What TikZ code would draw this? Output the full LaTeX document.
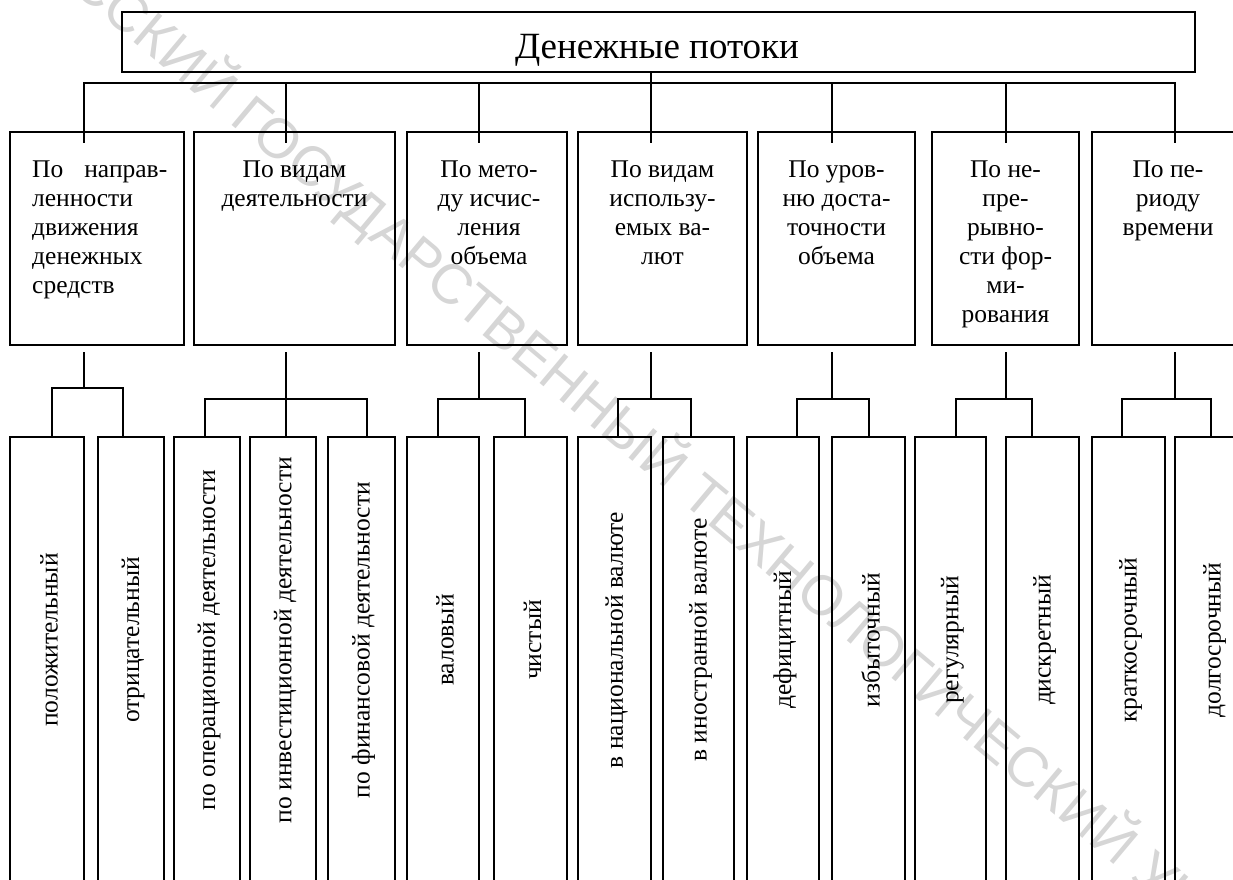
\documentclass[tikz,border=0pt]{standalone}
\usepackage{fontspec}
\setmainfont{Liberation Serif}
\newfontfamily\wmfont{Liberation Sans}
\tikzset{
  frame/.style={draw, line width=1.6pt, inner sep=0pt, outer sep=0pt, rectangle},
  cattext/.style={anchor=north, inner sep=0pt, align=center, font=\fontsize{25.5}{29}\selectfont},
  leaftext/.style={rotate=90, inner sep=0pt, font=\fontsize{25.5}{29}\selectfont},
  conn/.style={line width=1.6pt, line cap=rect},
}
\begin{document}
\begin{tikzpicture}[x=1pt,y=-1pt]
\clip (0,0) rectangle (1233,879);
% watermark
\node[rotate=-40, anchor=base west, text=black!16, font=\wmfont\fontsize{56}{56}\selectfont, inner sep=0pt] (wm) at (-105,-158)
  {БЕЛОРУССКИЙ ГОСУДАРСТВЕННЫЙ ТЕХНОЛОГИЧЕСКИЙ УНИВЕРСИТЕТ};
% top box
\node[frame, minimum width=1073pt, minimum height=60pt] (T) at (658.5,42) {};
\node[anchor=base, inner sep=0pt, font=\fontsize{37}{40}\selectfont] (title) at (657,58) {Денежные потоки};
% category boxes
\foreach \n/\cx/\w in {1/97/174, 2/294.5/201, 3/487/160, 4/662.5/169, 5/836.5/157, 6/1005.5/147, 7/1168/152}
  \node[frame, minimum width=\w pt, minimum height=213pt] (C\n) at (\cx,238.5) {};
% category texts
\node[cattext, anchor=north west, align=left] (t1) at (32,156.7)
  {\strut По\hspace{21pt}направ-\\ленности\\движения\\денежных\\средств};
\node[cattext] (t2) at (294.5,156.7) {\strut По видам\\деятельности};
\node[cattext] (t3) at (489,156.7) {\strut По мето-\\ду исчис-\\ления\\объема};
\node[cattext] (t4) at (662.5,156.7) {\strut По видам\\использу-\\емых ва-\\лют};
\node[cattext] (t5) at (836.5,156.7) {\strut По уров-\\ню доста-\\точности\\объема};
\node[cattext] (t6) at (1005.5,156.7) {\strut По не-\\пре-\\рывно-\\сти фор-\\ми-\\рования};
\node[cattext] (t7) at (1168,156.7) {\strut По пе-\\риоду\\времени};
% leaf boxes
\foreach \n/\cx/\w in {1/47/74, 2/131/66, 3/207/66, 4/283/66, 5/361.5/67, 6/443/72, 7/530.5/73, 8/614.5/73,
  9/698.5/71, 10/783/72, 11/868.5/73, 12/950.5/71, 13/1042.5/73, 14/1128.5/73, 15/1212.5/75}
  \node[frame, minimum width=\w pt, minimum height=468pt] (B\n) at (\cx,671) {};
% leaf texts
\foreach \n/\txt in {1/положительный, 2/отрицательный, 3/по операционной деятельности,
  4/по инвестиционной деятельности, 5/по финансовой деятельности, 6/валовый, 7/чистый,
  8/в национальной валюте, 9/в иностранной валюте, 10/дефицитный, 11/избыточный,
  12/регулярный, 13/дискретный, 14/краткосрочный, 15/долгосрочный}
  \node[leaftext] (L\n) at ([xshift=2pt,yshift=31pt]B\n.center) {\txt};
% top-level connectors
\coordinate (busL) at (84,83);
\coordinate (busR) at (1175,83);
\draw[conn] (busL) -- (busR);
\foreach \n/\x in {1/84, 2/286, 3/479, 4/651, 5/832, 6/1006, 7/1175}
  \coordinate (k\n) at (\x,142);
\draw[conn] (T.south -| k4) -- (k4);
\foreach \n in {1,2,3,5,6,7}
  \draw[conn] (busL -| k\n) -- (k\n);
% branch connectors
\foreach \n/\x/\y/\l/\r in {1/84/388/52/123, 2/286/399/205/367, 3/479/399/438/525,
  4/651/399/618/691, 5/832/399/797/869, 6/1006/399/956/1032, 7/1175/399/1122/1211}{
  \coordinate (j\n) at (\x,\y);
  \coordinate (l\n) at (\l,\y);
  \coordinate (r\n) at (\r,\y);
  \draw[conn] ([yshift=-8pt]C\n.south -| j\n) -- (j\n);
}
\draw[conn] (B1.north -| l1) |- (r1) -- (B2.north -| r1);
\draw[conn] (B3.north -| l2) |- (r2) -- (B5.north -| r2);
\draw[conn] (j2) -- (B4.north -| j2);
\draw[conn] (B6.north -| l3) |- (r3) -- (B7.north -| r3);
\draw[conn] (B8.north -| l4) |- (r4) -- (B9.north -| r4);
\draw[conn] (B10.north -| l5) |- (r5) -- (B11.north -| r5);
\draw[conn] (B12.north -| l6) |- (r6) -- (B13.north -| r6);
\draw[conn] (B14.north -| l7) |- (r7) -- (B15.north -| r7);
\end{tikzpicture}
\end{document}
